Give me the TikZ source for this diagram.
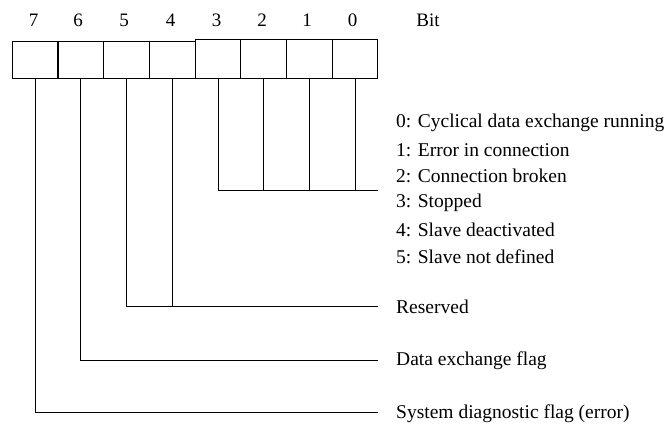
\documentclass[tikz,border=0pt]{standalone}
\usepackage{fontspec}
\setmainfont{Liberation Serif}
\begin{document}
\begin{tikzpicture}[x=1pt,y=-1pt,
  bitbox/.style={draw,line width=1.1pt,minimum width=45.7pt,minimum height=37.5pt,inner sep=0pt,anchor=north west},
  bitnum/.style={font=\fontsize{19}{22}\selectfont,inner sep=0pt},
  desc/.style={font=\fontsize{19.5}{22}\selectfont,inner sep=0pt,anchor=west},
  conn/.style={line width=0.8pt}]
\useasboundingbox (0,0) rectangle (669,428);
% boxes
\node[bitbox] (b7) at (11.7,40.7) {};
\node[bitbox] (b6) at (57.4,40.7) {};
\node[bitbox] (b5) at (103.1,40.7) {};
\node[bitbox] (b4) at (148.8,40.7) {};
\node[bitbox,minimum height=38.8pt] (b3) at (194.5,39.3) {};
\node[bitbox,minimum height=38.8pt] (b2) at (240.2,39.3) {};
\node[bitbox,minimum height=38.8pt] (b1) at (285.9,39.3) {};
\node[bitbox,minimum height=38.8pt] (b0) at (331.6,39.3) {};
% bit numbers
\node[bitnum] (n7) at (33.5,20) {7};
\node[bitnum] (n6) at (78,20) {6};
\node[bitnum] (n5) at (124,20) {5};
\node[bitnum] (n4) at (170.5,20) {4};
\node[bitnum] (n3) at (216.5,20) {3};
\node[bitnum] (n2) at (262,20) {2};
\node[bitnum] (n1) at (307,20) {1};
\node[bitnum] (n0) at (352.5,20) {0};
\node[bitnum] (bit) at (428,20) {Bit};
% descriptions
\node[desc] (d0) at (396,123) {0: Cyclical data exchange running};
\node[desc] (d1) at (396,149.7) {1: Error in connection};
\node[desc] (d2) at (396,176.3) {2: Connection broken};
\node[desc] (d3) at (396,203) {3: Stopped};
\node[desc] (d4) at (396,229.7) {4: Slave deactivated};
\node[desc] (d5) at (396,256.3) {5: Slave not defined};
\node[desc] (res) at (396,307) {Reserved};
\node[desc] (dex) at (396,360.5) {Data exchange flag};
\node[desc] (sys) at (396,413.5) {System diagnostic flag (error)};
% connector ends
\coordinate (e03) at (377.7,190);
\coordinate (e45) at (377.7,306.7);
\coordinate (e6) at (377.7,360);
\coordinate (e7) at (377.7,412.7);
% connectors
\draw[conn] (b3.south) |- (e03);
\draw[conn] (b2.south) -- (b2.south |- e03);
\draw[conn] (b1.south) -- (b1.south |- e03);
\draw[conn] (b0.south) -- (b0.south |- e03);
\draw[conn] (b5.south) |- (e45);
\draw[conn] (b4.south) -- (b4.south |- e45);
\draw[conn] (b6.south) |- (e6);
\draw[conn] (b7.south) |- (e7);
\end{tikzpicture}
\end{document}
